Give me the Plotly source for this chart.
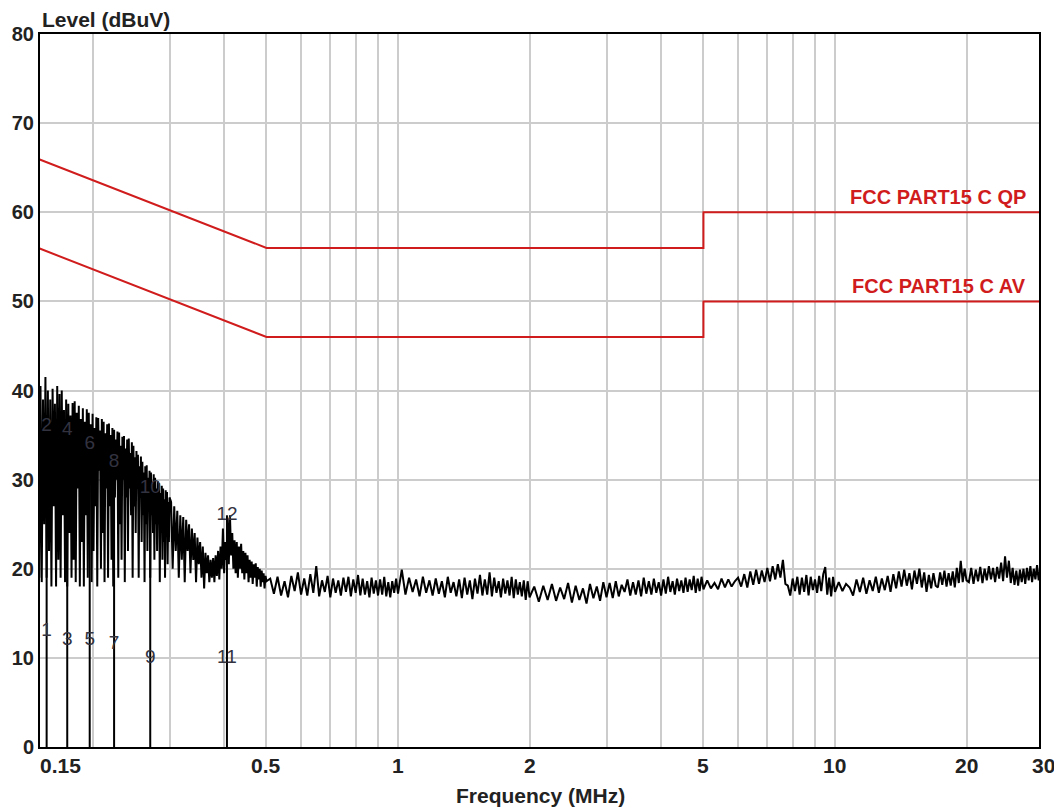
import numpy as np
import plotly.graph_objects as go

# ---------------- data ----------------
# spectrum sweep (MHz) and measured level (dBuV), read from the picture
freq_a = [0.150,0.151,0.152,0.153,0.154,0.155,0.156,0.157,0.158,0.159,
          0.160,0.161,0.162,0.163,0.164,0.165,0.166,0.167,0.168,0.169,
          0.170,0.171,0.172,0.173,0.174,0.175,0.176,0.177,0.178,0.179,
          0.180,0.181,0.182,0.183,0.184,0.185,0.186,0.187,0.188,0.189,
          0.190,0.191,0.192,0.193,0.194,0.195,0.196,0.197,0.198,0.199,
          0.200,0.201,0.202,0.203,0.204,0.205,0.206,0.207,0.208,0.209,
          0.210,0.211,0.212,0.213,0.214,0.215,0.216,0.217,0.218,0.219,
          0.220,0.221,0.222,0.223,0.224,0.225,0.226,0.227,0.228,0.229,
          0.230,0.231,0.232,0.233,0.234,0.235,0.236,0.237,0.238,0.239,
          0.240,0.241,0.242,0.243,0.244,0.245,0.246,0.247,0.248,0.249,
          0.250,0.251,0.252,0.253,0.254,0.255,0.256,0.257,0.258,0.259,
          0.260,0.261,0.262,0.263,0.264,0.265,0.266,0.267,0.268,0.269,
          0.270,0.271,0.272,0.273,0.274,0.275,0.276,0.277,0.278,0.279,
          0.280,0.281,0.282,0.283,0.284,0.285,0.286,0.287,0.288,0.289,
          0.290,0.291,0.292,0.293,0.294,0.295,0.296,0.297,0.298,0.299,
          0.300]
level_a = [39.5, 19, 40.5, 18.5, 39, 25, 41.5, 19, 40, 22,
           39, 18, 40.2, 27, 38.5, 18, 40.5, 21, 39.6, 19,
           40, 26, 37.8, 18.5, 39, 18, 38.5, 24, 37.2, 19,
           38.6, 21, 38.8, 18.5, 37.5, 29, 38.3, 18, 36.8, 23,
           38, 18, 36.5, 26, 37.9, 19, 37.5, 30, 36.2, 18.5,
           37.4, 22, 35.8, 27, 37, 18, 36.9, 31, 35.5, 20,
           36.8, 24, 36.5, 18.5, 35.2, 29, 36.2, 19, 36.3, 27,
           35, 21, 35.8, 18, 35.6, 28, 34.5, 30, 35.4, 19,
           35.3, 25, 33.8, 21, 34.8, 30, 34.9, 18.5, 33.5, 28,
           34.5, 22, 34.6, 29, 33, 26, 34.2, 19, 33.8, 27,
           32.5, 24, 33.2, 29, 32.8, 19, 31.5, 28, 32.6, 23,
           32, 26, 30.8, 18.5, 31.5, 25, 31.6, 22, 30.2, 27,
           31, 19, 30.8, 26, 29.5, 24, 30.6, 21, 30.2, 25,
           29, 22, 29.8, 25, 29.6, 18.5, 28.5, 24, 29.3, 21,
           29, 23, 27.8, 19, 28.8, 24, 28.6, 20.5, 27.5, 23,
           28]

freq_b = [0.3025,0.3050,0.3075,0.3100,0.3125,0.3150,0.3175,0.3200,0.3225,0.3250,
          0.3275,0.3300,0.3325,0.3350,0.3375,0.3400,0.3425,0.3450,0.3475,0.3500,
          0.3525,0.3550,0.3575,0.3600,0.3625,0.3650,0.3675,0.3700,0.3725,0.3750,
          0.3775,0.3800,0.3825,0.3850,0.3875,0.3900,0.3925,0.3950,0.3975,0.4000,
          0.4025,0.4050,0.4075,0.4100,0.4125,0.4150,0.4175,0.4200,0.4225,0.4250,
          0.4275,0.4300,0.4325,0.4350,0.4375,0.4400,0.4425,0.4450,0.4475,0.4500,
          0.4525,0.4550,0.4575,0.4600,0.4625,0.4650,0.4675,0.4700,0.4725,0.4750,
          0.4775,0.4800,0.4825,0.4850,0.4875,0.4900,0.4925,0.4950,0.4975,0.5000]
level_b = [27.5, 20, 27, 22, 26.5, 19, 26, 21, 25.8, 18.5,
           25.5, 22, 25, 19.5, 24.5, 21, 24, 18.5, 23.5, 20.5,
           23, 19, 22.5, 17.8, 21.8, 19.5, 21.5, 18.5, 21, 19,
           21.2, 18.5, 21.5, 19.2, 22, 18.8, 22.5, 20, 24.5, 19.5,
           23, 21, 25.5, 20.5, 26, 21.5, 24, 20, 23.2, 19.5,
           23, 19, 22.5, 20, 22.8, 19.5, 22, 18.8, 21.8, 19.5,
           21.5, 18.5, 21, 19, 20.8, 18.3, 20.5, 19, 20.6, 18,
           20.2, 18.8, 20, 18, 19.8, 18.5, 19.5, 17.8, 19.2, 18.6]

freq_c = [0.51,0.52,0.53,0.54,0.55,0.56,0.57,0.58,0.59,0.60,
          0.61,0.62,0.63,0.64,0.65,0.66,0.67,0.68,0.69,0.70,
          0.71,0.72,0.73,0.74,0.75,0.76,0.77,0.78,0.79,0.80,
          0.81,0.82,0.83,0.84,0.85,0.86,0.87,0.88,0.89,0.90,
          0.91,0.92,0.93,0.94,0.95,0.96,0.97,0.98,0.99,1.00]
level_c = [18.9, 17.2, 19.1, 17.0, 18.6, 16.8, 19.2, 17.5, 19.6, 17.1,
           18.9, 17.0, 19.4, 17.3, 20.3, 16.9, 18.7, 17.4, 19.2, 16.8,
           18.9, 17.3, 18.7, 17.0, 19.0, 17.4, 19.1, 16.9, 18.8, 17.3,
           19.3, 17.0, 18.9, 17.1, 18.6, 16.8, 19.0, 17.2, 18.7, 17.0,
           18.8, 17.1, 19.1, 16.9, 18.5, 16.8, 18.6, 17.3, 18.9, 17.2]

freq_d = [1.02,1.04,1.06,1.08,1.10,1.12,1.14,1.16,1.18,1.20,
          1.22,1.24,1.26,1.28,1.30,1.32,1.34,1.36,1.38,1.40,
          1.42,1.44,1.46,1.48,1.50,1.52,1.54,1.56,1.58,1.60,
          1.62,1.64,1.66,1.68,1.70,1.72,1.74,1.76,1.78,1.80,
          1.82,1.84,1.86,1.88,1.90,1.92,1.94,1.96,1.98,2.00]
level_d = [19.9, 17.1, 19.0, 17.4, 18.8, 16.9, 19.1, 17.3, 18.7, 17.0,
           18.9, 17.2, 18.6, 16.8, 19.1, 17.3, 18.5, 16.9, 18.8, 16.7,
           19.0, 17.1, 18.7, 16.6, 18.9, 17.2, 19.3, 17.0, 18.8, 17.1,
           19.6, 16.9, 19.0, 17.3, 18.6, 16.8, 18.9, 17.2, 18.7, 17.0,
           19.1, 16.7, 18.8, 17.1, 18.5, 16.9, 18.7, 16.5, 18.6, 16.8]

freq_e = [2.05,2.10,2.15,2.20,2.25,2.30,2.35,2.40,2.45,2.50,
          2.55,2.60,2.65,2.70,2.75,2.80,2.85,2.90,2.95,3.00,
          3.05,3.10,3.15,3.20,3.25,3.30,3.35,3.40,3.45,3.50,
          3.55,3.60,3.65,3.70,3.75,3.80,3.85,3.90,3.95,4.00,
          4.05,4.10,4.15,4.20,4.25,4.30,4.35,4.40,4.45,4.50,
          4.55,4.60,4.65,4.70,4.75,4.80,4.85,4.90,4.95,5.00]
level_e = [18.0, 16.3, 18.1, 16.5, 18.3, 16.4, 17.9, 16.6, 18.4, 16.2,
           18.1, 16.5, 17.8, 16.1, 18.3, 16.7, 18.0, 16.4, 18.5, 16.8,
           18.4, 16.7, 18.6, 16.9, 18.2, 17.4, 18.8, 17.0, 18.5, 17.1,
           18.7, 16.9, 19.0, 17.2, 18.6, 17.1, 18.9, 17.3, 18.5, 17.0,
           18.8, 17.2, 19.1, 17.4, 18.6, 17.1, 18.9, 17.5, 18.7, 17.3,
           19.0, 17.4, 18.8, 17.6, 19.2, 17.3, 18.9, 17.5, 19.1, 17.7]

freq_f = [5.1,5.2,5.3,5.4,5.5,5.6,5.7,5.8,5.9,6.0,
          6.1,6.2,6.3,6.4,6.5,6.6,6.7,6.8,6.9,7.0,
          7.1,7.2,7.3,7.4,7.5,7.6,7.7,7.8,7.9,8.0,
          8.1,8.2,8.3,8.4,8.5,8.6,8.7,8.8,8.9,9.0,
          9.1,9.2,9.3,9.4,9.5,9.6,9.7,9.8,9.9,10.0]
level_f = [18.7, 17.8, 18.4, 17.7, 18.9, 17.9, 18.8, 18.0, 18.6, 19.0,
           18.0, 19.4, 17.9, 19.7, 18.2, 19.9, 18.3, 19.8, 18.5, 20.1,
           18.6, 20.3, 18.8, 20.5, 19.0, 21.0, 18.3, 18.1, 17.0, 18.9,
           17.5, 19.1, 17.1, 19.0, 17.4, 19.3, 17.0, 19.1, 17.6, 18.8,
           17.3, 19.2, 17.5, 19.4, 20.2, 17.1, 19.0, 16.9, 19.1, 17.4]

freq_g = [10.2,10.4,10.6,10.8,11.0,11.2,11.4,11.6,11.8,12.0,
          12.2,12.4,12.6,12.8,13.0,13.2,13.4,13.6,13.8,14.0,
          14.2,14.4,14.6,14.8,15.0,15.2,15.4,15.6,15.8,16.0,
          16.2,16.4,16.6,16.8,17.0,17.2,17.4,17.6,17.8,18.0,
          18.2,18.4,18.6,18.8,19.0,19.2,19.4,19.6,19.8,20.0]
level_g = [18.5, 17.5, 18.3, 17.9, 17.0, 18.8, 17.4, 19.0, 17.2, 18.7,
           17.5, 19.1, 17.3, 18.9, 17.6, 19.2, 17.4, 19.4, 17.8, 19.7,
           18.0, 19.9, 18.1, 19.5, 17.7, 19.8, 18.3, 20.0, 17.9, 19.6,
           17.4, 19.3, 17.8, 19.5, 18.1, 17.9, 19.6, 18.2, 19.8, 18.0,
           19.5, 18.1, 19.7, 17.9, 20.1, 18.4, 20.9, 18.5, 20.0, 18.7]

freq_h = [20.25,20.50,20.75,21.00,21.25,21.50,21.75,22.00,22.25,22.50,
          22.75,23.00,23.25,23.50,23.75,24.00,24.25,24.50,24.75,25.00,
          25.25,25.50,25.75,26.00,26.25,26.50,26.75,27.00,27.25,27.50,
          27.75,28.00,28.25,28.50,28.75,29.00,29.25,29.50,29.75,30.00]
level_h = [18.5, 20.1, 18.3, 19.9, 18.6, 20.2, 18.4, 20.0, 18.7, 20.3,
           18.8, 20.1, 18.5, 20.2, 18.9, 20.7, 18.6, 21.4, 19.0, 20.9,
           18.4, 20.1, 18.2, 19.8, 18.1, 19.9, 18.5, 20.0, 18.3, 20.1,
           18.7, 20.3, 18.5, 20.0, 18.8, 20.4, 18.7, 20.2, 19.1, 20.4]

# limit lines (FCC Part 15 C)
limit_freq = [0.15, 0.5, 5, 5, 30]
qp_limit = [66, 56, 56, 60, 60]
av_limit = [56, 46, 46, 50, 50]

# measurement markers
marker_freq = [0.157, 0.175, 0.197, 0.224, 0.271, 0.406]
marker_av = [13, 12, 12, 11.5, 10, 10]
marker_qp = [36, 35.5, 34, 32, 29, 26]
marker_av_ids = ["1", "3", "5", "7", "9", "11"]
marker_qp_ids = ["2", "4", "6", "8", "10", "12"]

# axis ticks / range
x_range_mhz = [0.1516, 29.3]
x_tick_vals = [0.15, 0.5, 1, 2, 5, 10, 20, 30]
x_tick_text = ["0.15", "0.5", "1", "2", "5", "10", "20", "30"]
x_grid_vals = [0.2, 0.3, 0.4, 0.5, 0.6, 0.7, 0.8, 0.9, 1, 2, 3, 4, 5, 6, 7, 8, 9, 10, 20]
y_tick_vals = [0, 10, 20, 30, 40, 50, 60, 70, 80]

# ---------------- figure ----------------
spec_f = freq_a + freq_b + freq_c + freq_d + freq_e + freq_f + freq_g + freq_h
spec_l = level_a + level_b + level_c + level_d + level_e + level_f + level_g + level_h

lo, hi = np.log10(x_range_mhz[0]), np.log10(x_range_mhz[1])

def paper_x(v):
    # position of a frequency on the log x axis, as a fraction of the plot width
    return (np.log10(v) - lo) / (hi - lo)

FONT = "Arial, Liberation Sans, sans-serif"
RED = "#d01c1c"
fig = go.Figure()

fig.add_trace(go.Scatter(x=limit_freq, y=qp_limit, mode="lines",
                         line=dict(color=RED, width=2), hoverinfo="skip"))
fig.add_trace(go.Scatter(x=limit_freq, y=av_limit, mode="lines",
                         line=dict(color=RED, width=2), hoverinfo="skip"))

# marker stems
stem_x, stem_y = [], []
for f, q in zip(marker_freq, marker_qp):
    stem_x += [f, f, None]
    stem_y += [0, q, None]
fig.add_trace(go.Scatter(x=stem_x, y=stem_y, mode="lines",
                         line=dict(color="black", width=2), hoverinfo="skip"))

fig.add_trace(go.Scatter(x=spec_f, y=spec_l, mode="lines",
                         line=dict(color="black", width=2), hoverinfo="skip"))

fig.add_trace(go.Scatter(x=marker_freq, y=marker_av, mode="text",
                         text=marker_av_ids, textposition="middle center",
                         textfont=dict(family=FONT, size=19, color="#333340")))
fig.add_trace(go.Scatter(x=marker_freq, y=marker_qp, mode="text",
                         text=marker_qp_ids, textposition="middle center",
                         textfont=dict(family=FONT, size=19, color="#333340")))

annotations = []
for v, t in zip(x_tick_vals, x_tick_text):
    annotations.append(dict(x=paper_x(v), xref="paper", y=0, yref="paper",
                            text="<b>%s</b>" % t, showarrow=False,
                            xanchor="left" if v == x_tick_vals[0] else "center",
                            yanchor="top", yshift=-5,
                            font=dict(family=FONT, size=21, color="#222222")))
annotations.append(dict(x=0.5015, xref="paper", y=0, yref="paper",
                        text="<b>Frequency (MHz)</b>", showarrow=False,
                        xanchor="center", yanchor="middle", yshift=-48,
                        font=dict(family=FONT, size=21, color="#222222")))
annotations.append(dict(x=0, xref="paper", y=1, yref="paper",
                        text="<b>Level (dBuV)</b>", showarrow=False,
                        xanchor="left", yanchor="middle", yshift=15,
                        font=dict(family=FONT, size=21, color="#222222")))
annotations.append(dict(x=1, xref="paper", y=qp_limit[-1], yref="y",
                        text="<b>FCC PART15 C QP</b>", showarrow=False,
                        xanchor="right", yanchor="bottom", xshift=-11, yshift=2,
                        font=dict(family=FONT, size=20, color=RED)))
annotations.append(dict(x=1, xref="paper", y=av_limit[-1], yref="y",
                        text="<b>FCC PART15 C AV</b>", showarrow=False,
                        xanchor="right", yanchor="bottom", xshift=-11, yshift=2,
                        font=dict(family=FONT, size=20, color=RED)))

# the page adds an 8 px body margin, so the figure is sized to fit the window
fig.update_layout(
    width=1054, height=801,
    margin=dict(l=32, r=23, t=26, b=62, autoexpand=False),
    paper_bgcolor="white", plot_bgcolor="white",
    showlegend=False,
    annotations=annotations,
    xaxis=dict(type="log", range=[lo, hi], automargin=False,
               tickvals=x_grid_vals, showticklabels=False, ticks="",
               showgrid=True, gridcolor="#cccccc", gridwidth=2,
               showline=True, linecolor="black", linewidth=2, mirror=True,
               zeroline=False),
    yaxis=dict(range=[0, 80], tickvals=y_tick_vals, ticks="", automargin=False,
               showgrid=True, gridcolor="#cccccc", gridwidth=2,
               showline=True, linecolor="black", linewidth=2, mirror=True,
               zeroline=False,
               tickfont=dict(family=FONT, size=20, color="#222222", weight="bold")),
)

fig.write_html("out.html")
